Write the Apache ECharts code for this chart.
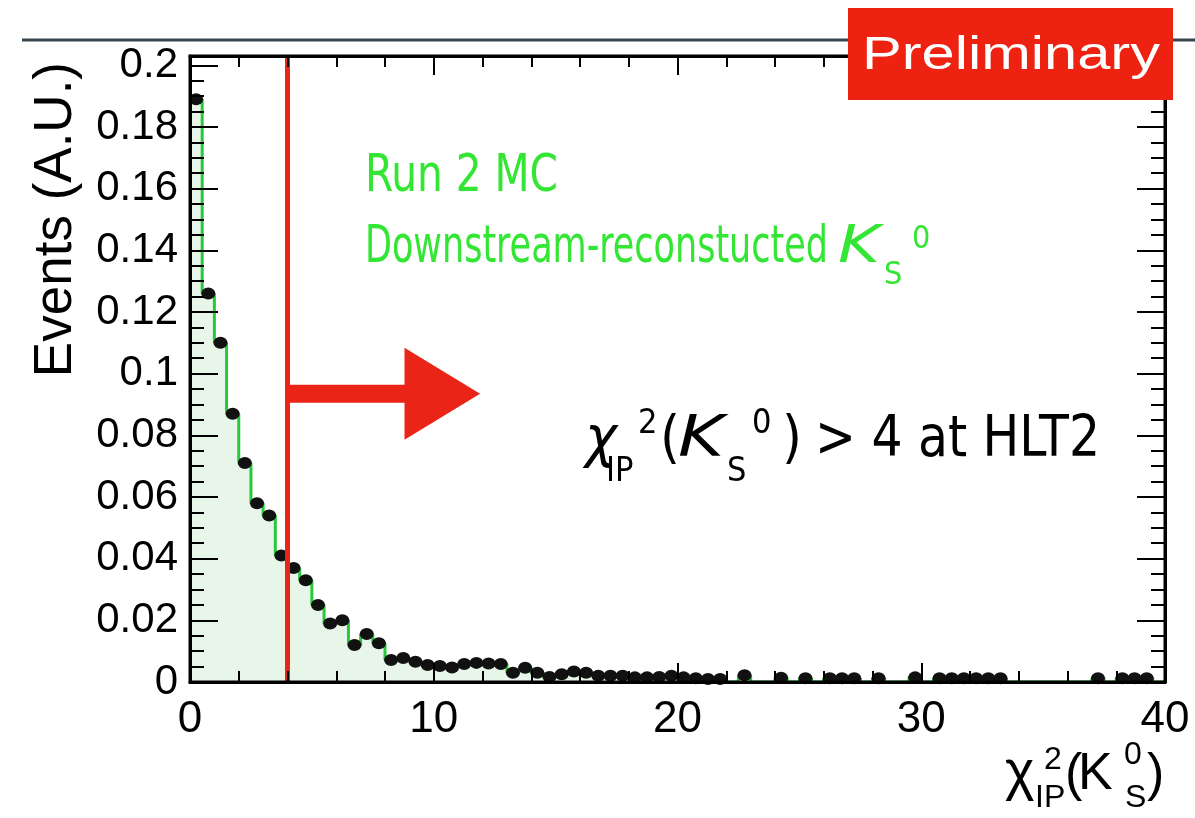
<!DOCTYPE html>
<html>
<head>
<meta charset="utf-8">
<title>chi2 IP of KS0</title>
<script src="https://cdn.jsdelivr.net/npm/echarts@6/dist/echarts.min.js"></script>
<style>
  html, body { margin: 0; padding: 0; background: #fff; }
  #chart { width: 1195px; height: 818px; }
</style>
</head>
<body>
<div id="chart"></div>
<script>
// histogram: 80 bins of width 0.5 over chi2_IP in [0, 40], normalised (A.U.)
const binWidth = 0.5;
const binCounts = [
  0.189, 0.126, 0.110, 0.087, 0.071, 0.058, 0.054, 0.041, 0.037, 0.033,
  0.025, 0.019, 0.020, 0.012, 0.0156, 0.0126, 0.0071, 0.0078, 0.0066, 0.0055,
  0.0052, 0.0047, 0.0058, 0.0062, 0.0060, 0.0058, 0.0030, 0.0046, 0.0030, 0.0016,
  0.0025, 0.0034, 0.0030, 0.0020, 0.0020, 0.0020, 0.0015, 0.0015, 0.0016, 0.0020,
  0.0015, 0.0012, 0.0010, 0.0010, 0, 0.0022, 0, 0, 0.0014, 0,
  0.0012, 0, 0.0012, 0.0012, 0.0012, 0, 0.0012, 0, 0, 0.0015,
  0, 0.0012, 0.0012, 0.0012, 0.0012, 0.0012, 0.0012, 0, 0, 0,
  0, 0, 0, 0, 0.0012, 0, 0.0012, 0.0012, 0.0012, 0
];
const xTickLabels = [0, 10, 20, 30, 40];
const yTickLabels = [0, 0.02, 0.04, 0.06, 0.08, 0.1, 0.12, 0.14, 0.16, 0.18, 0.2];
const xRange = [0, 40];
const yRange = [0, 0.203];
const cutValue = 4;          // chi2_IP > 4 at HLT2
const arrowHeadStart = 8.8;
const arrowTip = 11.9;
const arrowLevel = 0.0935;

const GREEN = '#27c93a';
const TEXT_GREEN = '#33e633';
const RED = '#ea2416';
const AXIS_FONT = '"Liberation Sans", Arial, Helvetica, sans-serif';
const NARROW_FONT = '"Liberation Sans Narrow", "DejaVu Sans Condensed", "Liberation Sans", sans-serif';

// step outline from bin edges, markers at bin centres
const stepData = binCounts.map((v, i) => [i * binWidth, v]);
stepData.push([binCounts.length * binWidth, binCounts[binCounts.length - 1]]);
const pointData = [];
binCounts.forEach((v, i) => { if (v > 0) pointData.push([(i + 0.5) * binWidth, v]); });

const chart = echarts.init(document.getElementById('chart'));

const tickBase = { show: true, inside: true, lineStyle: { color: '#000', width: 2 } };

function xAx(position, interval, len, labels, line) {
  return {
    type: 'value', position, min: xRange[0], max: xRange[1], interval, z: 10,
    axisLine: { show: line, onZero: false, lineStyle: { color: '#000', width: 3 } },
    axisTick: Object.assign({}, tickBase, { length: len }),
    axisLabel: labels ? {
      show: true, color: '#000', fontSize: 44, fontFamily: AXIS_FONT, margin: 16,
      customValues: xTickLabels
    } : { show: false },
    splitLine: { show: false }
  };
}
function yAx(position, len, labels, line, interval) {
  const ax = {
    type: 'value', position, min: yRange[0], max: yRange[1], z: 10,
    axisLine: { show: line, onZero: false, lineStyle: { color: '#000', width: 3 } },
    axisTick: Object.assign({}, tickBase, { length: len }),
    axisLabel: { show: false },
    splitLine: { show: false }
  };
  if (interval) ax.interval = interval;
  else ax.axisTick.customValues = yTickLabels;
  if (labels) {
    ax.axisLabel = {
      show: true, color: '#000', fontSize: 42, fontFamily: AXIS_FONT, margin: 12,
      customValues: yTickLabels, formatter: v => String(v)
    };
  }
  return ax;
}

const option = {
  backgroundColor: '#fff',
  animation: false,
  grid: { left: 190, right: 30, top: 56, bottom: 136, containLabel: false },
  xAxis: [
    xAx('bottom', 10, 19, true, true),
    xAx('bottom', 2, 11, false, false),
    xAx('top', 10, 19, false, true),
    xAx('top', 2, 11, false, false)
  ],
  yAxis: [
    yAx('left', 28, true, true, null),
    yAx('left', 14, false, false, 0.005),
    yAx('right', 28, false, true, null),
    yAx('right', 14, false, false, 0.005)
  ],
  series: [
    {
      type: 'line', step: 'end', data: stepData, symbol: 'none', z: 2,
      lineStyle: { color: GREEN, width: 3 },
      areaStyle: { color: '#e8f6ea', opacity: 1, origin: 'start' }
    },
    {
      type: 'scatter', data: pointData, symbol: 'circle', symbolSize: [14, 12], z: 3,
      itemStyle: { color: '#111', opacity: 1 },
      markLine: {
        silent: true, symbol: 'none', z: 5,
        label: { show: false },
        lineStyle: { color: RED, width: 5, type: 'solid' },
        data: [{ xAxis: cutValue }]
      }
    }
  ]
};
chart.setOption(option);

// --- annotations ---
const measureCtx = document.createElement('canvas').getContext('2d');
function textWidth(str, font) { measureCtx.font = font; return measureCtx.measureText(str).width; }

function txt(str, x, y, size, family, fill, opts) {
  opts = opts || {};
  const style = opts.italic ? 'italic ' : '';
  const font = style + size + 'px ' + family;
  let sx = 1;
  if (opts.width) sx = opts.width / textWidth(str, font);
  return {
    type: 'text', x, y, scaleX: sx, rotation: opts.rotation || 0, z: 100,
    style: {
      text: str, fill, font,
      textAlign: opts.align || 'left', textVerticalAlign: 'middle'
    }
  };
}

const toPx = v => chart.convertToPixel({ xAxisIndex: 0, yAxisIndex: 0 }, v);
const p0 = toPx([cutValue, arrowLevel]);
const p1 = toPx([arrowHeadStart, arrowLevel]);
const p2 = toPx([arrowTip, arrowLevel]);
const shaftHalf = 9, headHalf = 46;
const arrowShape = [
  [p0[0] + 2, p0[1] - shaftHalf], [p1[0], p1[1] - shaftHalf], [p1[0], p1[1] - headHalf],
  [p2[0], p2[1]], [p1[0], p1[1] + headHalf], [p1[0], p1[1] + shaftHalf], [p0[0] + 2, p0[1] + shaftHalf]
];
// plot frame drawn over the filled histogram
const cLo = toPx([xRange[0], yRange[0]]);
const cHi = toPx([xRange[1], yRange[1]]);

const graphics = [
  { type: 'rect', z: 80, silent: true,
    shape: { x: cLo[0], y: cHi[1], width: cHi[0] - cLo[0], height: cLo[1] - cHi[1] },
    style: { fill: 'none', stroke: '#000', lineWidth: 3 } },

  // slide rule line and "Preliminary" badge
  { type: 'line', z: 90, shape: { x1: 22, y1: 40, x2: 1195, y2: 40 }, style: { stroke: '#37474f', lineWidth: 3 } },
  { type: 'rect', z: 95, shape: { x: 848, y: 8, width: 325, height: 92 }, style: { fill: '#ee2211' } },
  txt('Preliminary', 862, 56, 46, AXIS_FONT, '#fff', { width: 298 }),

  // arrow from the cut
  { type: 'polygon', z: 96, shape: { points: arrowShape }, style: { fill: RED } },

  // legend-like labels
  txt('Run 2 MC', 365, 178, 51, NARROW_FONT, TEXT_GREEN, { width: 193 }),
  txt('Downstream-reconstucted', 365, 249, 51, NARROW_FONT, TEXT_GREEN, { width: 463 }),
  txt('K', 838, 249, 51, NARROW_FONT, TEXT_GREEN, { italic: true, width: 42 }),
  txt('S', 884, 276, 32, NARROW_FONT, TEXT_GREEN),
  txt('0', 912, 240, 32, NARROW_FONT, TEXT_GREEN),

  // cut label
  txt('\u03c7', 585, 441, 57, NARROW_FONT, '#000', { italic: true, width: 32 }),
  txt('IP', 606, 472, 34, NARROW_FONT, '#000'),
  txt('2', 638, 424, 34, NARROW_FONT, '#000'),
  txt('(', 660, 441, 57, NARROW_FONT, '#000'),
  txt('K', 678, 441, 57, NARROW_FONT, '#000', { italic: true, width: 46 }),
  txt('S', 727, 472, 34, NARROW_FONT, '#000'),
  txt('0', 752, 424, 34, NARROW_FONT, '#000'),
  txt(')', 782, 441, 57, NARROW_FONT, '#000'),
  txt('> 4 at HLT2', 815, 441, 57, NARROW_FONT, '#000', { width: 285 }),

  // axis titles
  txt('Events (A.U.)', 56, 62, 53, AXIS_FONT, '#000', { rotation: Math.PI / 2, align: 'right' }),
  txt('\u03c7', 1005, 774, 56, AXIS_FONT, '#000'),
  txt('2', 1044, 760, 32, AXIS_FONT, '#000'),
  txt('IP', 1035, 798, 32, AXIS_FONT, '#000'),
  txt('(', 1065, 776, 52, AXIS_FONT, '#000'),
  txt('K', 1078, 775, 52, AXIS_FONT, '#000'),
  txt('0', 1124, 755, 32, AXIS_FONT, '#000'),
  txt('S', 1125, 798, 32, AXIS_FONT, '#000'),
  txt(')', 1147, 776, 52, AXIS_FONT, '#000')
];
chart.setOption({ graphic: graphics });
</script>
</body>
</html>
